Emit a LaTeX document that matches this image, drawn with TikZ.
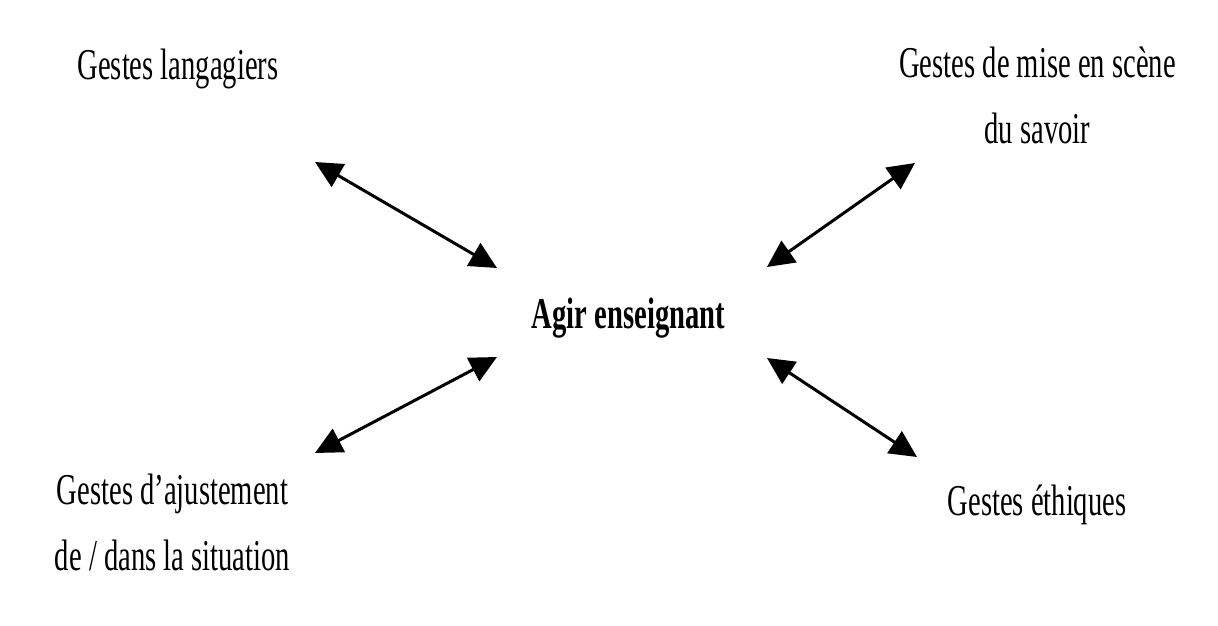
\documentclass[tikz,border=0pt]{standalone}
\usepackage{fontspec}
\setmainfont{Liberation Serif}[FakeStretch=0.65]
\usetikzlibrary{arrows.meta}
\tikzset{
  lbl/.style={inner sep=0pt, font=\fontsize{44}{66}\selectfont, align=center, anchor=base},
  dbl/.style={line width=3pt, black, {Triangle[length=27pt,width=26pt]}-{Triangle[length=27pt,width=26pt]}}
}
\begin{document}
\begin{tikzpicture}[x=1pt,y=-1pt]
\useasboundingbox[fill=white] (0,0) rectangle (1218,626);
\node[lbl] (gl) at (178,80) {Gestes langagiers};
\node[lbl] (gm) at (1037.5,143) {Gestes de mise en scène\\du savoir};
\node[lbl,font=\fontsize{44}{66}\selectfont\bfseries] (ae) at (628.5,328) {Agir enseignant};
\node[lbl] (ga) at (172.5,570) {Gestes d’ajustement\\de / dans la situation};
\node[lbl] (ge) at (1037,515) {Gestes éthiques};
\coordinate (tl1) at (315,162);
\coordinate (tl2) at (497,268);
\coordinate (tr1) at (915,163);
\coordinate (tr2) at (767,267);
\coordinate (bl1) at (497,357);
\coordinate (bl2) at (315,453);
\coordinate (br1) at (767,358);
\coordinate (br2) at (917,457);
\draw[dbl] (tl1) -- (tl2);
\draw[dbl] (tr1) -- (tr2);
\draw[dbl] (bl1) -- (bl2);
\draw[dbl] (br1) -- (br2);
\end{tikzpicture}
\end{document}
